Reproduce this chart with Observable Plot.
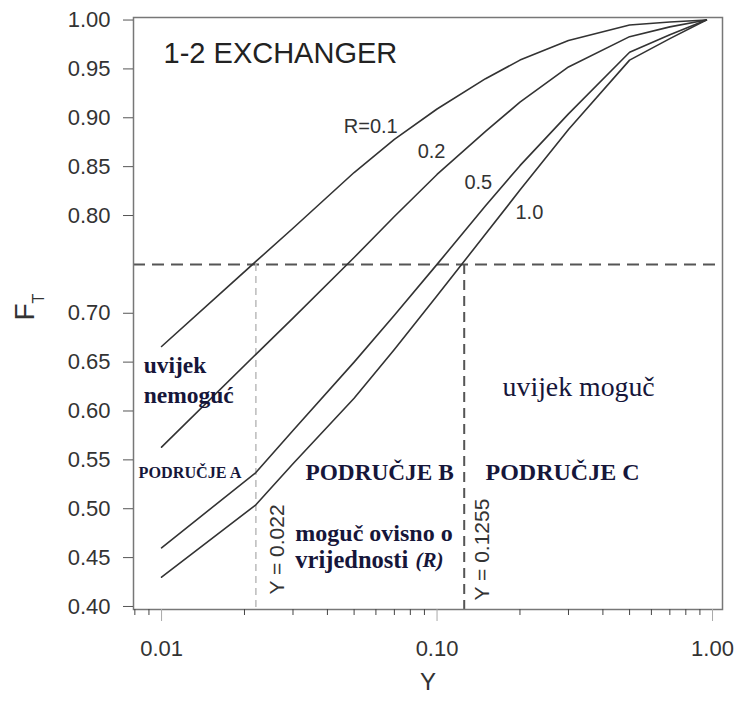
<!DOCTYPE html>
<html>
<head>
<meta charset="utf-8">
<script src="https://cdn.jsdelivr.net/npm/d3@7"></script>
<script src="https://cdn.jsdelivr.net/npm/@observablehq/plot@0.6"></script>
<style>
  html, body { margin: 0; padding: 0; background: #fff; }
  #chart svg { display: block; }
</style>
</head>
<body>
<div id="chart"></div>
<script>
// ---- data ----
const yValues = [0.01, 0.022, 0.03, 0.05, 0.07, 0.1, 0.15, 0.2, 0.3, 0.5, 0.7, 0.95];
const ftR01 = [0.666, 0.753, 0.787, 0.844, 0.878, 0.909, 0.940, 0.959, 0.979, 0.995, 0.998, 1.000];
const ftR02 = [0.563, 0.658, 0.695, 0.757, 0.799, 0.842, 0.886, 0.916, 0.952, 0.983, 0.993, 1.000];
const ftR05 = [0.460, 0.537, 0.580, 0.650, 0.698, 0.750, 0.810, 0.851, 0.904, 0.967, 0.985, 1.000];
const ftR10 = [0.430, 0.504, 0.546, 0.613, 0.663, 0.718, 0.781, 0.826, 0.888, 0.959, 0.981, 1.000];
const rNames = ["0.1", "0.2", "0.5", "1.0"];

const yTickValues = [1.00, 0.95, 0.90, 0.85, 0.80, 0.70, 0.65, 0.60, 0.55, 0.50, 0.45, 0.40];
const xMajorTicks = [0.01, 0.1, 1];
const xMinorTicks = [0.008, 0.009, 0.02, 0.03, 0.04, 0.05, 0.06, 0.07, 0.08, 0.09,
                     0.2, 0.3, 0.4, 0.5, 0.6, 0.7, 0.8, 0.9];
const ftLimit = [0.75];
const yLimitA = [0.022];
const yLimitB = [0.1255];

// ---- build table ----
const series = [ftR01, ftR02, ftR05, ftR10];
const rows = rNames.flatMap((r, i) => yValues.map((y, j) => ({R: r, Y: y, F: series[i][j]})));

const xDom = [0.00791, 1.087];
const yDom = [0.3969, 1.0026];
const sans = "'Liberation Sans', Arial, Helvetica, sans-serif";
const serif = "'Liberation Serif', 'Times New Roman', Times, serif";
const navy = "#16163a";
const one = [0];

const chart = Plot.plot({
  width: 734,
  height: 702,
  marginLeft: 133,
  marginRight: 12,
  marginTop: 17,
  marginBottom: 93,
  x: {type: "log", domain: xDom, label: null},
  y: {domain: yDom, label: null},
  style: {fontFamily: sans, background: "#fff", color: "#333"},
  marks: [
    // reference lines
    Plot.ruleY(ftLimit, {stroke: "#555", strokeWidth: 2, strokeDasharray: "12,7"}),
    Plot.ruleX(yLimitA, {y1: ftLimit[0], y2: yDom[0], stroke: "#bbb", strokeWidth: 1.5, strokeDasharray: "7,5"}),
    Plot.ruleX(yLimitB, {y1: ftLimit[0], y2: yDom[0], stroke: "#555", strokeWidth: 2, strokeDasharray: "10,6"}),
    // curves
    Plot.line(rows, {x: "Y", y: "F", z: "R", stroke: "#333", strokeWidth: 1.6, curve: "linear"}),
    // frame & axes
    Plot.frame({stroke: "#777", strokeWidth: 1.5}),
    Plot.axisY({ticks: yTickValues, tickSize: 10, tickPadding: 13, tickFormat: d3.format(".2f"),
                fontSize: 22, color: "#333", stroke: "#555", label: null}),
    Plot.axisX({ticks: xMajorTicks, tickSize: 12, tickPadding: 19, tickFormat: d3.format(".2f"),
                fontSize: 22, color: "#333", stroke: "#aaa", label: null}),
    Plot.axisX({ticks: xMinorTicks, tickSize: 6, tickFormat: () => "", stroke: "#444", label: null}),
    // axis titles
    Plot.text(one, {frameAnchor: "bottom", dy: 80, text: () => "Y", fontSize: 24, fill: "#333"}),
    Plot.text(one, {frameAnchor: "left", dx: -108, dy: 7, rotate: -90, text: () => "F", fontSize: 28, fill: "#333"}),
    Plot.text(one, {frameAnchor: "left", dx: -95, dy: -10, rotate: -90, text: () => "T", fontSize: 16, fill: "#333"}),
    // title inside
    Plot.text(one, {x: () => 0.01017, y: () => 0.9657, text: () => "1-2 EXCHANGER", textAnchor: "start", fontSize: 29, fill: "#222"}),
    // curve labels
    Plot.text(one, {x: () => 0.0720, y: () => 0.891, text: () => "R=0.1", textAnchor: "end", fontSize: 20, fill: "#333"}),
    Plot.text(one, {x: () => 0.1073, y: () => 0.8655, text: () => "0.2", textAnchor: "end", fontSize: 20, fill: "#333"}),
    Plot.text(one, {x: () => 0.1586, y: () => 0.8333, text: () => "0.5", textAnchor: "end", fontSize: 20, fill: "#333"}),
    Plot.text(one, {x: () => 0.1926, y: () => 0.8026, text: () => "1.0", textAnchor: "start", fontSize: 20, fill: "#333"}),
    // region annotations
    Plot.text(one, {x: () => 0.00861, y: () => 0.6465, text: () => "uvijek", textAnchor: "start", fontFamily: serif, fontWeight: "bold", fontSize: 23.5, fill: navy}),
    Plot.text(one, {x: () => 0.00861, y: () => 0.6159, text: () => "nemoguć", textAnchor: "start", fontFamily: serif, fontWeight: "bold", fontSize: 23.5, fill: navy}),
    Plot.text(one, {x: () => 0.00825, y: () => 0.5371, text: () => "PODRUČJE A", textAnchor: "start", fontFamily: serif, fontWeight: "bold", fontSize: 16.2, fill: navy}),
    Plot.text(one, {x: () => 0.0333, y: () => 0.5371, text: () => "PODRUČJE B", textAnchor: "start", fontFamily: serif, fontWeight: "bold", fontSize: 23.3, fill: navy}),
    Plot.text(one, {x: () => 0.150, y: () => 0.5371, text: () => "PODRUČJE C", textAnchor: "start", fontFamily: serif, fontWeight: "bold", fontSize: 24, fill: navy}),
    Plot.text(one, {x: () => 0.173, y: () => 0.624, text: () => "uvijek moguč", textAnchor: "start", fontFamily: serif, fontSize: 27.8, fill: navy}),
    Plot.text(one, {x: () => 0.0306, y: () => 0.4747, text: () => "moguč ovisno o", textAnchor: "start", fontFamily: serif, fontWeight: "bold", fontSize: 24, fill: navy}),
    Plot.text(one, {x: () => 0.0306, y: () => 0.447, text: () => "vrijednosti", textAnchor: "start", fontFamily: serif, fontWeight: "bold", fontSize: 24.5, fill: navy}),
    Plot.text(one, {x: () => 0.1055, y: () => 0.447, text: () => "(R)", textAnchor: "end", fontFamily: serif, fontWeight: "bold", fontStyle: "italic", fontSize: 21, fill: navy}),
    // limit labels
    Plot.text(yLimitA, {x: () => 0.0264, y: () => 0.4583, rotate: -90, text: d => "Y = " + d.toFixed(3), fontSize: 21, fill: "#333"}),
    Plot.text(yLimitB, {x: () => 0.146, y: () => 0.4583, rotate: -90, text: d => "Y = " + d.toFixed(4), fontSize: 21, fill: "#333"})
  ]
});
document.getElementById("chart").appendChild(chart);
</script>
</body>
</html>
